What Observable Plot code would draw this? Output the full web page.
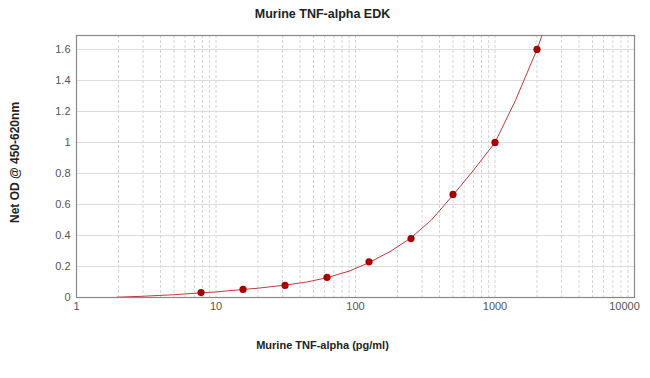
<!DOCTYPE html>
<html><head><meta charset="utf-8">
<script src="https://cdn.jsdelivr.net/npm/d3@7"></script>
<script src="https://cdn.jsdelivr.net/npm/@observablehq/plot@0.6"></script>
<style>body{margin:0;background:#fff}</style>
</head><body><div id="chart"></div>
<script>
const title = "Murine TNF-alpha EDK";
const xLabel = "Murine TNF-alpha (pg/ml)";
const yLabel = "Net OD @ 450-620nm";
const conc = [7.8125, 15.625, 31.25, 62.5, 125, 250, 500, 1000, 2000];
const od = [0.032, 0.052, 0.078, 0.13, 0.23, 0.38, 0.665, 1.0, 1.6];
const fitX = [1.95, 3, 5, 7.8125, 10, 15.625, 20, 31.25, 45, 62.5, 90, 125, 180, 250, 350, 500, 700, 1000, 1400, 2000, 2250];
const fitY = [0.002, 0.008, 0.018, 0.03, 0.036, 0.052, 0.06, 0.08, 0.1, 0.128, 0.17, 0.225, 0.3, 0.385, 0.5, 0.66, 0.82, 1.0, 1.27, 1.6, 1.73];
const xTicks = [1, 10, 100, 1000];
const xTickLast = [10000];
const yTicks = [0, 0.2, 0.4, 0.6, 0.8, 1, 1.2, 1.4, 1.6];

const points = conc.map((c, i) => ({c, v: od[i]}));
const fit = fitX.map((c, i) => ({c, v: fitY[i]}));
const gridX = [];
for (const d of [1, 10, 100, 1000]) for (let k = 2; k <= 10; k++) gridX.push(d * k);

const font = "Liberation Sans, Arial, sans-serif";
const chart = Plot.plot({
  width: 650, height: 378,
  marginLeft: 76, marginRight: 16, marginTop: 35, marginBottom: 81,
  style: {fontFamily: font, background: "#fff"},
  x: {type: "log", domain: [1, 10000]},
  y: {domain: [0, 1.69]},
  marks: [
    Plot.ruleX(gridX, {stroke: "#d4d4d4", strokeDasharray: "3,2", strokeWidth: 1}),
    Plot.ruleY(yTicks.filter(d => d > 0), {stroke: "#dcdcdc", strokeWidth: 1}),
    Plot.frame({stroke: "#888", strokeWidth: 1.2}),
    Plot.line(fit, {x: "c", y: "v", stroke: "#c23a3a", strokeWidth: 1, clip: true}),
    Plot.dot(points, {x: "c", y: "v", r: 3.6, fill: "#a80000", stroke: "none"}),
    Plot.axisY(yTicks, {tickSize: 0, tickPadding: 6, fontSize: 11, fill: "#555", label: null, tickFormat: d => String(d)}),
    Plot.axisX(xTicks, {tickSize: 0, tickPadding: 5, fontSize: 11, fill: "#555", label: null, tickFormat: d => String(d)}),
    Plot.axisX(xTickLast, {tickSize: 0, tickPadding: 5, fontSize: 11, fill: "#555", label: null, dx: -10, tickFormat: d => String(d)}),
    Plot.text([title], {frameAnchor: "top", dy: -26, dx: -33, fontSize: 12.5, fontWeight: "bold", fill: "#222"}),
    Plot.text([xLabel], {frameAnchor: "bottom", dy: 51, dx: -33, fontSize: 11, fontWeight: "bold", fill: "#222"}),
    Plot.text([yLabel], {frameAnchor: "left", textAnchor: "middle", dx: -61, dy: -4, rotate: -90, fontSize: 12, fontWeight: "bold", fill: "#222"})
  ]
});
document.getElementById("chart").appendChild(chart);
</script>
</body></html>
